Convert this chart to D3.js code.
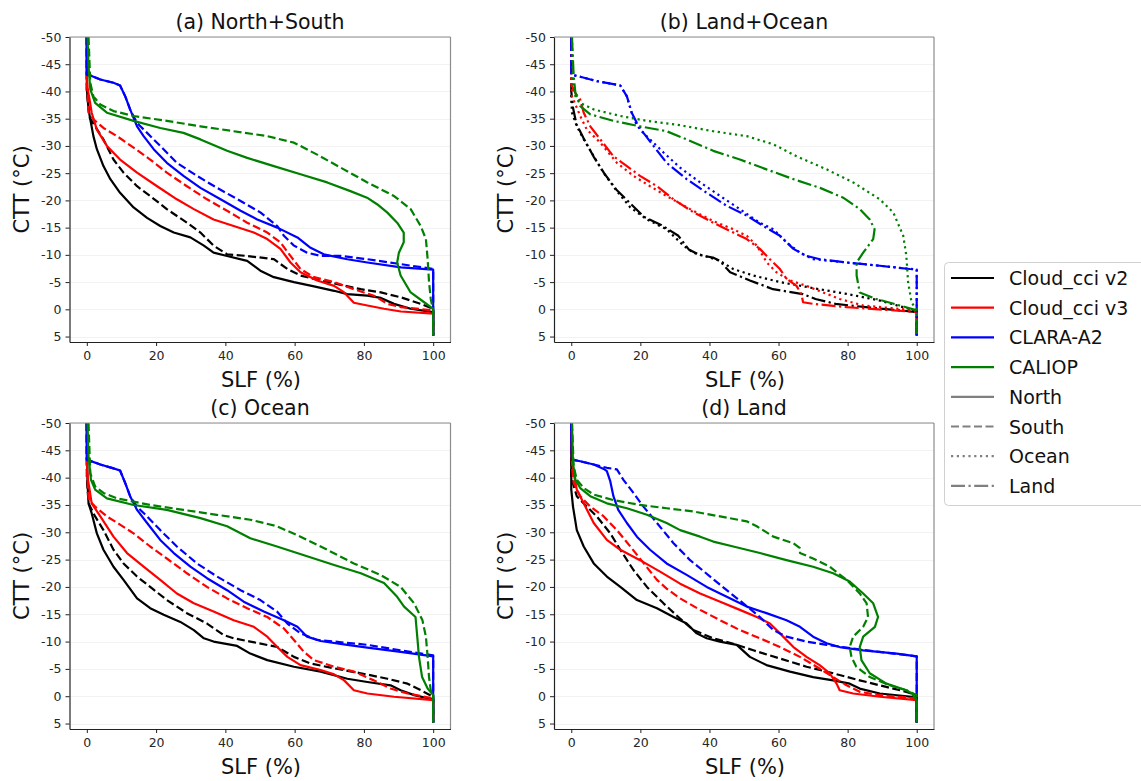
<!DOCTYPE html>
<html>
<head>
<meta charset="utf-8">
<script src="https://cdn.jsdelivr.net/npm/d3@7"></script>
<style>
  body { margin: 0; background: #fff; }
  text { font-family: "DejaVu Sans", sans-serif; }
</style>
</head>
<body>
<svg id="chart" width="1141" height="781"></svg>
<script>
// tick values
const slfTicks = [0, 20, 40, 60, 80, 100]
const cttTicks = [-50, -45, -40, -35, -30, -25, -20, -15, -10, -5, 0, 5]

const products = ["Cloud_cci v2", "Cloud_cci v3", "CLARA-A2", "CALIOP"]
const productColors = ["#000000", "#ff0000", "#0000ff", "#008000"]
const subsets = ["North", "South", "Ocean", "Land"]
const panelTitles = ["(a) North+South", "(b) Land+Ocean", "(c) Ocean", "(d) Land"]

// curves as [SLF %, CTT °C]
// (a) North+South
const a_v2_n = [[0,-50],[0,-40.5],[0.5,-36.7],[1,-34.9],[1.9,-31.8],[2.9,-29.4],[4.8,-26.3],[6.8,-23.9],[9.6,-21.4],[13.5,-18.7],[17.4,-16.8],[21.2,-15.3],[25.1,-14.1],[29.9,-13.2],[33.8,-11.7],[36.6,-10.4],[40.5,-9.8],[46.3,-8.9],[50.1,-7.1],[54,-5.9],[59.8,-5.0],[65.6,-4.2],[71.4,-3.4],[75.2,-2.8],[81,-2.5],[84.9,-2.1],[88.7,-1.0],[93.5,-0.1],[100,0.5],[100,4.8]]
const a_v2_s = [[0,-50],[0,-40],[0.8,-35.2],[2.4,-33.6],[4.8,-31.2],[7.7,-27.5],[10.6,-25.1],[14.5,-22.6],[18.3,-20.8],[23.1,-18.4],[28.9,-15.9],[32.8,-14.1],[36.6,-11.7],[40.5,-10.1],[46.3,-9.8],[54,-9.2],[57.9,-7.4],[61.7,-6.2],[67.5,-5.3],[73.3,-4.5],[79.1,-3.7],[84.9,-3.1],[90.7,-2.2],[96.4,-1.0],[100,-0.1],[100,4.8]]
const a_v3_n = [[0,-50],[0,-42.9],[0.2,-40.7],[0.8,-38.5],[1.4,-36.1],[2.9,-33.0],[5.8,-30.0],[9.6,-27.5],[14.5,-25.1],[20.3,-22.6],[26,-20.2],[30.9,-18.4],[36.6,-16.5],[42.4,-15.3],[48.2,-14.1],[52.1,-12.9],[55.9,-11.1],[58.8,-8.6],[61.7,-6.8],[66.5,-5.3],[71.4,-4.3],[74.3,-3.1],[77.1,-1.2],[81,-0.7],[85.8,-0.1],[90.7,0.4],[100,0.8],[100,4.8]]
const a_v3_s = [[0,-50],[0,-42],[0.5,-36.1],[1.9,-34.9],[4.8,-33.3],[8.7,-31.8],[13.5,-29.7],[18.3,-27.5],[23.1,-25.1],[28.9,-22.6],[34.7,-20.2],[40.5,-18.1],[46.3,-15.9],[52.1,-14.1],[55.9,-12.3],[58.8,-9.8],[61.7,-7.4],[65.6,-5.9],[71.4,-5.0],[77.1,-3.7],[82.9,-2.5],[86.8,-1.0],[90.7,-0.4],[100,0.2],[100,4.8]]
const a_cl_n = [[0,-50],[0,-43.1],[1.2,-42.9],[3.9,-42.2],[7.7,-41.6],[9.6,-41.1],[11.1,-39.1],[12.5,-36.7],[14.5,-33.6],[16.4,-31.8],[19.3,-29.4],[23.1,-26.9],[27.9,-24.5],[32.8,-22.3],[38.6,-20.2],[44.4,-18.1],[49.2,-16.5],[55,-15.0],[60.8,-13.2],[64.6,-11.3],[68.4,-10.1],[75.2,-9.2],[81,-8.6],[90.7,-7.7],[100,-7.3],[100,4.8]]
const a_cl_s = [[0,-50],[0,-43.1],[1.2,-42.9],[3.9,-42.2],[7.7,-41.6],[9.6,-41.1],[11.1,-39.1],[12.5,-36.7],[14.5,-34.2],[17.4,-32.4],[21.2,-30.0],[26,-26.9],[31.8,-24.5],[37.6,-22.3],[44.4,-19.9],[50.1,-17.8],[55,-15.3],[56.9,-13.5],[59.8,-11.7],[63.6,-10.4],[67.5,-9.8],[73.3,-9.8],[81,-9.2],[90.6,-8.3],[100,-7.4],[100,4.8]]
const a_ca_n = [[0.2,-50],[0.5,-44.6],[1,-40.4],[2.4,-37.9],[5.8,-36.1],[13.5,-34.6],[21.2,-33.3],[27.9,-32.4],[32.8,-31.2],[40.5,-29.1],[46.3,-27.8],[54,-26.3],[61.7,-24.8],[69.4,-23.3],[76.1,-21.7],[80.9,-20.5],[83.8,-19.3],[86.7,-17.8],[89.6,-15.9],[91.5,-14.1],[91.5,-12.3],[90.1,-10.4],[89.6,-8.6],[90.6,-6.2],[93.5,-3.1],[97.4,-1.3],[100,-0.1],[100,4.8]]
const a_ca_s = [[0.5,-50],[1,-41.6],[1.9,-39.1],[3.9,-37.6],[7.7,-36.4],[13.5,-35.5],[23.1,-34.6],[32.8,-33.6],[42.4,-32.7],[52.1,-31.8],[59.8,-30.6],[66.5,-28.4],[74.2,-25.7],[81,-23.3],[88.7,-20.8],[93.5,-18.4],[96.4,-15.3],[97.9,-12.9],[98.4,-9.2],[98.8,-5.0],[99.3,-1.9],[100,0.2],[100,4.8]]

// (b) Land+Ocean
const b_v2_o = [[0,-50],[0,-38.5],[0.2,-36.1],[1.6,-33.6],[3.6,-31.2],[6.5,-28.1],[9.3,-25.1],[13.2,-21.7],[17.1,-18.7],[21.9,-16.5],[27.6,-14.7],[32.5,-11.7],[35.3,-10.4],[40.2,-9.5],[43,-8.9],[46.9,-7.4],[52.7,-6.2],[60.4,-5.0],[70,-3.9],[80,-2.8],[89.4,-1.6],[96,-0.4],[100,0.3],[100,4.8]]
const b_v2_l = [[0,-50],[0,-40],[0.5,-37],[1.5,-34],[3.5,-31.5],[6.5,-28],[9.5,-25],[13,-22],[17,-19.5],[21,-17],[26,-15.5],[31,-13.5],[34,-11],[37,-10],[41,-9.5],[43,-8.9],[46,-6.8],[51.7,-5.3],[58.4,-3.7],[67,-2.8],[70.7,-1.9],[76.5,-1.0],[85.2,-0.4],[100,0.5],[100,4.8]]
const b_v3_o = [[0,-50],[0,-41.5],[0.2,-39.1],[2.6,-35.5],[4.5,-33.0],[8.4,-30.6],[13.2,-26.9],[18,-24.5],[22.8,-22.6],[27.6,-20.8],[34.4,-18.4],[41.1,-16.2],[46.9,-14.7],[50.8,-13.5],[53.7,-11.7],[56.6,-8.6],[59.4,-6.8],[63.3,-5.3],[68.1,-4.3],[72.9,-3.1],[77.7,-1.9],[84.5,-0.7],[100,0.2],[100,4.8]]
const b_v3_l = [[0,-50],[0,-42.8],[0.2,-41],[1.2,-39.7],[2.6,-38.5],[3.6,-36.1],[5.5,-33.6],[8.4,-31.2],[12.2,-28.1],[16.1,-26.3],[19.9,-24.5],[24.8,-22.6],[29.6,-20.2],[35.4,-17.8],[41.1,-15.9],[46.9,-14.1],[50.8,-12.9],[54.6,-11.1],[57.5,-9.2],[60.4,-7.4],[62.3,-5.6],[65.2,-4.3],[66.6,-2.8],[67.1,-1.3],[70,-1.0],[79.7,-0.4],[100,0.5],[100,4.8]]
const b_cl_o = [[0,-50],[0,-43.1],[2.6,-42.7],[7.4,-41.9],[14.2,-41.1],[16.1,-39.1],[17.2,-36.7],[18,-34.9],[19.9,-33.0],[22.8,-31.2],[26.7,-28.8],[31.5,-26.0],[37.3,-23.3],[43.1,-20.8],[48.8,-18.4],[54.6,-15.9],[58.5,-14.7],[62.3,-12.3],[66.2,-10.4],[70,-9.2],[79.7,-8.6],[89.3,-8.0],[100,-7.3],[100,4.8]]
const b_cl_l = [[0,-50],[0,-43.1],[2.6,-42.7],[7.4,-41.9],[14.2,-41.1],[16.1,-39.1],[17.5,-36.1],[19,-34.2],[20.9,-32.4],[23.8,-30.0],[27.6,-26.9],[33.4,-23.9],[39.2,-21.4],[45,-19.0],[50.8,-17.2],[55.6,-15.3],[60.4,-13.5],[64.3,-11.1],[68.1,-9.8],[72,-9.2],[79.7,-8.6],[89.3,-8.0],[98,-7.4],[100,-7.3],[100,4.8]]
const b_ca_o = [[0.2,-50],[0.5,-41.6],[1.2,-39.1],[2.6,-37.9],[6.5,-36.7],[14.2,-35.5],[21.9,-34.6],[31.5,-33.8],[41.1,-32.7],[50.8,-31.8],[58.5,-30.3],[65.2,-28.1],[73.9,-25.7],[81.6,-23.3],[89.3,-20.2],[93.2,-17.8],[96.1,-13.5],[97,-9.8],[97.5,-5.0],[98.5,-1.3],[100,0.2],[100,4.8]]
const b_ca_l = [[0.2,-50],[0.7,-42.8],[1.2,-39.7],[2.6,-37.3],[5.5,-35.8],[12.2,-34.6],[19.9,-33.6],[27.6,-32.7],[33.4,-31.2],[41.1,-29.1],[48.8,-27.5],[56.5,-25.7],[64.3,-23.9],[72,-22.3],[78.7,-20.5],[83.5,-18.4],[86.4,-16.5],[87.8,-14.7],[87.4,-12.9],[84.5,-10.4],[82.6,-8.6],[82.6,-6.2],[83.5,-3.1],[88.3,-1.9],[95.1,-0.7],[100,0.2],[100,4.8]]

// (c) Ocean
const c_v2_n = [[0,-50],[0.2,-39],[0.5,-35.3],[1.4,-33.5],[2.9,-29.8],[4.8,-26.8],[7.7,-23.7],[10.6,-21.3],[14.5,-17.9],[18.3,-16.1],[22.2,-14.9],[27,-13.6],[30.9,-12.1],[33.8,-10.6],[36.6,-10.0],[43.4,-9.2],[47.2,-7.8],[52.1,-6.6],[59.8,-5.4],[67.5,-4.5],[75.2,-3.2],[81,-2.6],[87.7,-2.0],[90.6,-1.1],[94.5,-0.2],[100,0.6],[100,4.8]]
const c_v2_s = [[0,-50],[0,-40],[0.5,-35.3],[2.4,-32.9],[4.8,-30.4],[7.7,-26.8],[10.6,-24.3],[14.5,-21.9],[18.3,-20.0],[23.1,-17.6],[28.9,-15.2],[34.7,-13.3],[39.5,-11.2],[42.4,-10.6],[47.2,-10.0],[55,-9.0],[59.8,-7.2],[64.6,-6.0],[71.4,-5.1],[79.1,-4.2],[86.8,-3.2],[92.6,-2.3],[96.4,-1.1],[100,0.1],[100,4.8]]
const c_v3_n = [[0,-50],[0,-43],[0.2,-40.2],[0.8,-37.8],[1.4,-35.3],[3.9,-32.9],[7.7,-29.2],[11.6,-26.2],[16.4,-23.7],[21.2,-21.3],[26,-18.8],[30.9,-17.0],[36.6,-15.5],[42.4,-13.9],[48.2,-12.7],[52.1,-10.9],[55,-9.0],[57.9,-7.2],[61.7,-5.7],[67.5,-4.8],[71.4,-4.0],[74.3,-2.9],[77.1,-1.1],[81,-0.5],[88.7,0.1],[100,0.7],[100,4.8]]
const c_v3_s = [[0,-50],[0,-42],[0.5,-36],[2.4,-34.7],[5.8,-32.9],[9.6,-31.4],[13.5,-29.8],[18.3,-27.4],[23.1,-25.2],[28.9,-22.5],[34.7,-20.0],[40.5,-17.9],[46.3,-16.1],[52.1,-14.5],[56.9,-12.4],[59.8,-10.3],[62.7,-8.1],[65.6,-6.6],[71.4,-5.4],[77.1,-4.5],[82.9,-2.9],[87.7,-1.4],[92.6,-0.5],[100,0.4],[100,4.8]]
const c_cl_n = [[0,-50],[0,-43.3],[3.9,-42.4],[7.7,-41.7],[9.6,-41.3],[11.1,-39],[12.5,-36.6],[14.5,-34.1],[17.4,-31.7],[21.2,-28.6],[25.1,-26.2],[29.9,-23.7],[34.7,-21.6],[40.5,-19.4],[45.3,-17.3],[51.1,-15.5],[56.9,-13.9],[60.8,-12.7],[63.6,-10.9],[67.5,-10.1],[75.2,-9.4],[81,-8.9],[90.6,-8.1],[100,-7.3],[100,4.8]]
const c_cl_s = [[0,-50],[0,-43.3],[3.9,-42.4],[7.7,-41.7],[9.6,-41.3],[11.1,-39],[12.5,-36.6],[14.5,-34.7],[17.4,-32.9],[21.2,-30.4],[26,-27.4],[31.8,-24.3],[37.6,-21.9],[44.4,-19.4],[50.1,-17.6],[54.9,-15.5],[57.9,-13.3],[61.7,-11.5],[66.5,-10.3],[71.4,-10.0],[81,-9.4],[90.6,-8.4],[100,-7.5],[100,4.8]]
const c_ca_n = [[0.2,-50],[0.5,-43.9],[1.2,-39.6],[2.4,-37.8],[5.8,-36.2],[13.5,-35],[23.1,-34.1],[32.8,-32.6],[40.5,-31.1],[47.2,-28.9],[54.9,-27.4],[63.6,-25.6],[71.4,-24.0],[79.1,-22.5],[85.8,-20.7],[89.6,-18.2],[91.6,-16.4],[94.9,-14.5],[95.4,-10.9],[95.9,-7.2],[96.8,-3.5],[98.4,-1.4],[100,-0.2],[100,4.8]]
const c_ca_s = [[0.5,-50],[1,-40.8],[2.4,-38.4],[4.8,-37.2],[8.7,-36.2],[18.3,-35],[27.9,-34.1],[37.5,-33.2],[47.2,-32.3],[54.9,-31.1],[61.7,-29.2],[69.4,-26.8],[77.1,-24.3],[84.8,-22.2],[90.6,-20.0],[94.5,-17.0],[96.9,-13.9],[97.9,-10.9],[98.4,-7.2],[98.8,-3.5],[99.3,-1.1],[100,0],[100,4.8]]

// (d) Land
const d_v2_n = [[0,-50],[0,-40.8],[0,-37.8],[0.5,-34.7],[1.6,-30.4],[3.6,-27.4],[6.5,-24.3],[10.3,-21.9],[14.2,-20.0],[19,-17.6],[24.8,-16.1],[29.6,-14.5],[33.4,-13.3],[36.3,-11.5],[39.2,-10.6],[43,-10.0],[47.9,-9.4],[51.7,-7.2],[56.5,-5.7],[63.3,-4.5],[70,-3.5],[75.8,-2.9],[80.6,-2.3],[83.5,-1.4],[89.3,-0.5],[100,0.2],[100,4.8]]
const d_v2_s = [[0,-50],[0,-40],[1.6,-36.6],[4.5,-34.7],[7.4,-32.9],[11.3,-29.8],[14.2,-26.8],[18,-23.1],[21.9,-20.0],[26.7,-17.0],[31.5,-14.2],[35.4,-12.1],[41.1,-10.6],[46.9,-9.6],[52.7,-8.4],[60.4,-6.9],[68.1,-5.4],[75.8,-4.2],[83.5,-2.9],[91.2,-1.7],[97,-0.8],[100,-0.2],[100,4.8]]
const d_v3_n = [[0,-50],[0.2,-43],[0.7,-40.8],[1.6,-37.8],[3.6,-35.3],[6.5,-31.7],[10.3,-28.6],[14.2,-26.8],[19.9,-24.9],[25.7,-22.8],[31.5,-20.6],[37.3,-18.8],[43.1,-17.3],[48.8,-15.8],[53.7,-14.5],[57.5,-13.3],[60.4,-11.5],[64.3,-9.0],[68.1,-7.2],[71.9,-5.7],[74.8,-4.2],[76.8,-2.3],[77.7,-1.1],[81.6,-0.5],[89.3,0.1],[100,0.7],[100,4.8]]
const d_v3_s = [[0,-50],[0.2,-42],[0.7,-39],[2.6,-36.6],[5.5,-34.7],[9.4,-32.9],[13.2,-30.4],[17.1,-27.4],[21,-24.3],[24.8,-21.3],[27.6,-19.7],[31.5,-17.9],[37.3,-15.8],[43.1,-13.9],[48.8,-12.1],[54.6,-10.6],[60.4,-9.0],[66.2,-7.2],[71,-5.4],[75.8,-3.5],[79.7,-2.0],[83.5,-0.8],[89.3,-0.2],[100,0.4],[100,4.8]]
const d_cl_n = [[0,-50],[0.2,-43.3],[2.6,-43],[6.5,-42.4],[9.4,-41.6],[10.3,-41.2],[11.3,-39.3],[12.2,-36.6],[13.6,-34.1],[16.1,-31.7],[19,-29.2],[22.8,-26.8],[27.6,-24.3],[33.4,-22.2],[39.2,-20],[45,-18.2],[50.8,-16.4],[56.5,-15.2],[62.3,-13.9],[66.2,-12.7],[70,-10.9],[73.9,-9.7],[77.7,-9.0],[84.5,-8.4],[94.2,-7.8],[100,-7.3],[100,4.8]]
const d_cl_s = [[0,-50],[0.2,-43.3],[2.6,-43],[6.5,-42.4],[10.3,-41.8],[13.2,-41.5],[15.1,-39.6],[18,-37.2],[20.9,-34.7],[24.8,-31.7],[29.6,-28],[34.4,-24.9],[40.2,-21.9],[45,-19.4],[49.8,-17],[54.6,-14.5],[58.5,-12.1],[62.3,-10.9],[68.1,-10],[73.9,-9.4],[79.7,-8.9],[89.3,-8.1],[100,-7.3],[100,4.8]]
const d_ca_n = [[0.2,-50],[0.5,-42.7],[1.2,-39.6],[2.6,-38.1],[5.5,-36.6],[10.3,-35.3],[16.1,-34.4],[21.9,-33.2],[27.6,-31.7],[31.5,-30.4],[37.3,-29.2],[41.1,-28.3],[46.9,-27.4],[54.6,-26.2],[62.3,-24.9],[70,-23.7],[75.8,-22.5],[80.6,-21],[84.5,-18.8],[87.4,-17],[88.8,-14.5],[87.9,-12.7],[84.5,-10.9],[83.5,-9],[84,-6.6],[86.4,-4.2],[91.2,-2.3],[97,-1.1],[98.6,-0.5],[100,0.7],[100,4.8]]
const d_ca_s = [[0.2,-50],[0.7,-42.1],[1.6,-39.6],[3.6,-38.1],[6.5,-36.9],[12.2,-35.9],[19.9,-35],[27.6,-34.4],[35.4,-33.8],[43.1,-32.9],[50.8,-32],[53.7,-31.1],[58.5,-29.2],[64.3,-28],[66.2,-27.1],[66.2,-26.2],[70,-25.2],[74.8,-23.7],[79.7,-21.3],[83.5,-18.8],[85.5,-17],[85.9,-14.5],[84.5,-12.7],[81.6,-10.9],[80.6,-9],[81.1,-7.2],[82.5,-5.4],[86.4,-3.5],[92.2,-2],[97,-1.1],[100,-0.2],[100,4.8]]

// which curves go in which panel: [data, product index, subset index]
const panelCurves = [
    [[a_v2_n,0,0],[a_v2_s,0,1],[a_v3_n,1,0],[a_v3_s,1,1],[a_cl_n,2,0],[a_cl_s,2,1],[a_ca_n,3,0],[a_ca_s,3,1]],
    [[b_v2_o,0,2],[b_v2_l,0,3],[b_v3_o,1,2],[b_v3_l,1,3],[b_cl_o,2,2],[b_cl_l,2,3],[b_ca_o,3,2],[b_ca_l,3,3]],
    [[c_v2_n,0,0],[c_v2_s,0,1],[c_v3_n,1,0],[c_v3_s,1,1],[c_cl_n,2,0],[c_cl_s,2,1],[c_ca_n,3,0],[c_ca_s,3,1]],
    [[d_v2_n,0,0],[d_v2_s,0,1],[d_v3_n,1,0],[d_v3_s,1,1],[d_cl_n,2,0],[d_cl_s,2,1],[d_ca_n,3,0],[d_ca_s,3,1]]
]

const dashes = ["none", "8,3.5", "2.2,3.6", "14,3.5,2.2,3.5"]
const lw = 2.2

const svg = d3.select("#chart")

// axes boxes
const boxes = [
    {left: 69.5, top: 37, w: 381, h: 305},
    {left: 554, top: 37, w: 380, h: 305},
    {left: 69.5, top: 423, w: 381, h: 306},
    {left: 554, top: 423, w: 380, h: 306}
]

boxes.forEach((b, i) => {
    const x = d3.scaleLinear().domain([-5, 105]).range([0, b.w])
    const y = d3.scaleLinear().domain([-50, 6]).range([0, b.h])

    const g = svg.append("g").attr("transform", `translate(${b.left}, ${b.top})`)

    g.append("clipPath").attr("id", "clip" + i)
        .append("rect").attr("width", b.w).attr("height", b.h)

    // faint horizontal grid
    g.append("g").selectAll("line").data(cttTicks).join("line")
        .attr("x1", 0).attr("x2", b.w)
        .attr("y1", d => Math.round(y(d)) + 0.5).attr("y2", d => Math.round(y(d)) + 0.5)
        .attr("stroke", "#f2f2f2").attr("stroke-width", 1)

    const line = d3.line().x(d => x(d[0])).y(d => y(d[1]))

    g.append("g").attr("clip-path", `url(#clip${i})`)
        .selectAll("path").data(panelCurves[i]).join("path")
        .attr("d", d => line(d[0]))
        .attr("fill", "none")
        .attr("stroke", d => productColors[d[1]])
        .attr("stroke-width", lw)
        .attr("stroke-dasharray", d => dashes[d[2]])
        .attr("stroke-linejoin", "round")

    // frame: top/right light, left/bottom dark
    g.append("line").attr("x1", 0).attr("x2", b.w).attr("y1", 0).attr("y2", 0)
        .attr("stroke", "#8c8c8c").attr("stroke-width", 1.2)
    g.append("line").attr("x1", b.w).attr("x2", b.w).attr("y1", 0).attr("y2", b.h)
        .attr("stroke", "#8c8c8c").attr("stroke-width", 1.2)

    const yAxis = g.append("g")
        .call(d3.axisLeft(y).tickValues(cttTicks).tickSize(4).tickSizeOuter(0).tickPadding(4).tickFormat(d => String(d)))
    const xAxis = g.append("g").attr("transform", `translate(0, ${b.h})`)
        .call(d3.axisBottom(x).tickValues(slfTicks).tickSize(4).tickSizeOuter(0).tickPadding(5))
    ;[yAxis, xAxis].forEach(ax => {
        ax.select(".domain").attr("stroke", "#222").attr("stroke-width", 1.2)
        ax.selectAll(".tick line").attr("stroke", "#222")
        ax.selectAll(".tick text").attr("fill", "#262626")
            .style("font-family", "DejaVu Sans").style("font-size", "12.5px")
    })

    g.append("text")
        .attr("x", b.w / 2).attr("y", -8)
        .attr("text-anchor", "middle")
        .attr("font-size", 20.5).attr("fill", "#111")
        .text(panelTitles[i])

    g.append("text")
        .attr("x", b.w / 2 + 1).attr("y", b.h + 45)
        .attr("text-anchor", "middle")
        .attr("font-size", 21).attr("fill", "#111")
        .text("SLF (%)")

    g.append("text")
        .attr("transform", `translate(-41, ${b.h / 2}) rotate(-90)`)
        .attr("text-anchor", "middle")
        .attr("font-size", 21).attr("fill", "#111")
        .text("CTT (°C)")
})

// legend
const legendItems = products.map((p, i) => ({label: p, color: productColors[i], dash: "none"}))
    .concat(subsets.map((s, i) => ({label: s, color: "#808080", dash: dashes[i]})))

const lg = svg.append("g").attr("transform", "translate(944, 262)")
lg.append("rect")
    .attr("x", 0.5).attr("y", 0.5).attr("width", 210).attr("height", 243)
    .attr("rx", 4).attr("fill", "#fff").attr("stroke", "#d0d0d0")

const rows = lg.selectAll("g.row").data(legendItems).join("g")
    .attr("class", "row")
    .attr("transform", (d, i) => `translate(0, ${16 + i * 29.7})`)
rows.append("line")
    .attr("x1", 7).attr("x2", 50).attr("y1", 0).attr("y2", 0)
    .attr("stroke", d => d.color).attr("stroke-width", lw)
    .attr("stroke-dasharray", d => d.dash)
rows.append("text")
    .attr("x", 65).attr("y", 7)
    .attr("font-size", 19).attr("fill", "#111")
    .text(d => d.label)
</script>
</body>
</html>
